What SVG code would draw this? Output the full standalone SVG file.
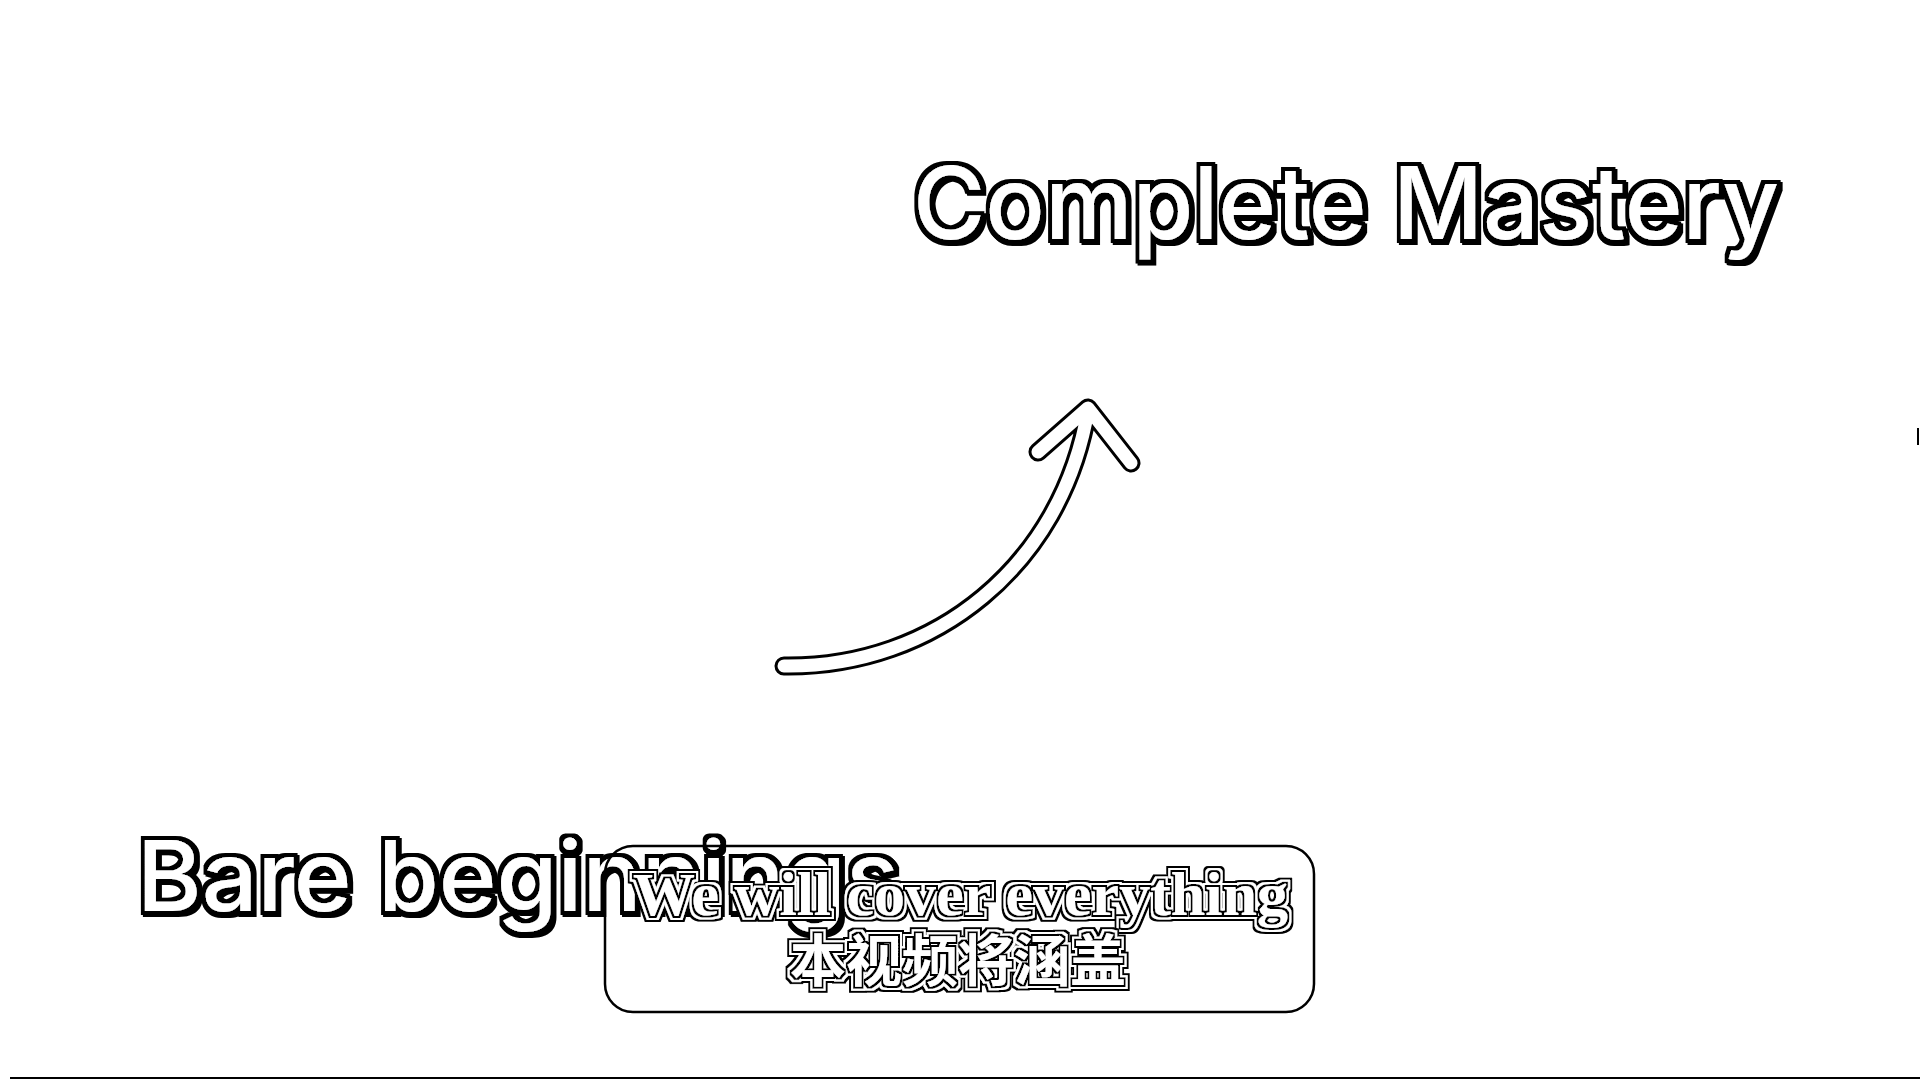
<svg xmlns="http://www.w3.org/2000/svg" xmlns:xlink="http://www.w3.org/1999/xlink" width="1920" height="1080" viewBox="0 0 1920 1080">
<style>
.title{font-family:Inter,"Noto Sans","Liberation Sans",sans-serif;font-weight:500;fill:#fff;filter:url(#outline)}
.sub{font-family:"Liberation Serif","Noto Serif",serif;font-weight:700;fill:#fff;filter:url(#double)}
.cjk{font-family:"Noto Sans CJK SC","Noto Sans CJK TC",sans-serif;font-weight:700;fill:#fff;filter:url(#double)}
.edge{fill:none;stroke:#000;stroke-width:19;stroke-linecap:round;stroke-linejoin:round}
.core{fill:none;stroke:#fff;stroke-width:13;stroke-linecap:round;stroke-linejoin:round}
</style>
<defs>
<filter id="outline" x="-5%" y="-20%" width="110%" height="140%">
<feMorphology in="SourceAlpha" operator="dilate" radius="3.5" result="d"/>
<feOffset in="d" dx="2" dy="2" result="sh"/>
<feFlood flood-color="#000"/>
<feComposite operator="in" in2="d" result="blk"/>
<feFlood flood-color="#000"/>
<feComposite operator="in" in2="sh" result="blk2"/>
<feMerge><feMergeNode in="blk2"/><feMergeNode in="blk"/><feMergeNode in="SourceGraphic"/></feMerge>
</filter>
<filter id="double" x="-5%" y="-30%" width="110%" height="160%">
<feMorphology in="SourceAlpha" operator="dilate" radius="6" result="d3"/>
<feMorphology in="SourceAlpha" operator="dilate" radius="4" result="d2"/>
<feMorphology in="SourceAlpha" operator="dilate" radius="1.6" result="d1"/>
<feFlood flood-color="#000"/><feComposite operator="in" in2="d3" result="o3"/>
<feFlood flood-color="#fff"/><feComposite operator="in" in2="d2" result="o2"/>
<feFlood flood-color="#000"/><feComposite operator="in" in2="d1" result="o1"/>
<feMerge><feMergeNode in="o3"/><feMergeNode in="o2"/><feMergeNode in="o1"/><feMergeNode in="SourceGraphic"/></feMerge>
</filter>
<path id="arrowPath" d="M784,666 C935,668 1062,565 1088,410 M1038,452 L1088,408 L1131,463"/>
</defs>
<rect width="1920" height="1080" fill="#fff"/>
<g id="connectors">
<use xlink:href="#arrowPath" class="edge"/>
<use xlink:href="#arrowPath" class="core"/>
</g>
<g id="node-complete-mastery">
<text class="title" x="913" y="239" font-size="101" textLength="866" lengthAdjust="spacingAndGlyphs">Complete Mastery</text>
</g>
<g id="node-bare-beginnings">
<text class="title" x="137" y="911" font-size="98" textLength="762" lengthAdjust="spacingAndGlyphs">Bare beginnings</text>
</g>
<g id="node-subtitle">
<rect x="605" y="846" width="709" height="166" rx="28" fill="none" stroke="#000" stroke-width="2.5"/>
<text class="sub" x="633" y="915" font-size="62" textLength="655" lengthAdjust="spacingAndGlyphs">We will cover everything</text>
<text class="cjk" x="790" y="981" font-size="56" textLength="336" lengthAdjust="spacingAndGlyphs">本视频将涵盖</text>
</g>
<line x1="10" y1="1078" x2="1920" y2="1078" stroke="#000" stroke-width="2"/>
<line x1="1918" y1="428" x2="1918" y2="445" stroke="#000" stroke-width="2"/>
</svg>
